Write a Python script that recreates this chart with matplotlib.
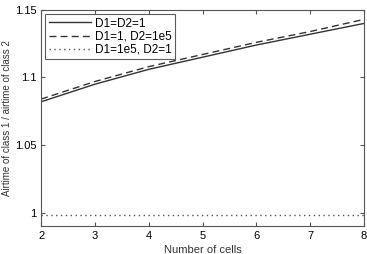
import matplotlib
matplotlib.use('Agg')
import matplotlib.pyplot as plt

plt.rcParams['font.family'] = ['Liberation Sans', 'DejaVu Sans']

cells = [2, 3, 4, 5, 6, 7, 8]
same_d = [1.082, 1.095, 1.106, 1.115, 1.124, 1.132, 1.140]
d2_big = [1.084, 1.097, 1.108, 1.117, 1.126, 1.134, 1.143]
d1_big = [0.998, 0.998, 0.998, 0.998, 0.998, 0.998, 0.998]

fig = plt.figure(figsize=(3.67, 2.54), dpi=100)
ax = fig.add_axes([0.112, 0.110, 0.880, 0.851])

ax.plot(cells, same_d, color='#333333', lw=1.0, ls='-', label='D1=D2=1')
ax.plot(cells, d2_big, color='#333333', lw=1.0, ls=(0, (5, 3)), label='D1=1, D2=1e5')
ax.plot(cells, d1_big, color='#555555', lw=1.0, ls=(0, (1, 2.5)), label='D1=1e5, D2=1')

ax.set_xlim(2, 8)
ax.set_ylim(0.99, 1.15)
ax.set_xticks(cells)
ax.set_yticks([1, 1.05, 1.1, 1.15])
ax.set_yticklabels(['1', '1.05', '1.1', '1.15'])
ax.tick_params(direction='in', top=True, right=True, labelsize=8, length=3, color='#555555')
for s in ax.spines.values():
    s.set_color('#555555')
    s.set_linewidth(0.8)

ax.set_xlabel('Number of cells', fontsize=8, color='#333333', labelpad=3)
ax.set_ylabel('Airtime of class 1 / airtime of class 2', fontsize=7, color='#333333',
              va='center')
ax.yaxis.set_label_coords(-0.105, 0.5)

leg = ax.legend(loc='upper left', fontsize=8.5, frameon=True, fancybox=False,
                edgecolor='#333333', borderpad=0.3, handlelength=3.6,
                handletextpad=0.3, labelspacing=0.1, borderaxespad=0.35)
leg.get_frame().set_linewidth(0.8)

fig.savefig('out.png', dpi=100)
